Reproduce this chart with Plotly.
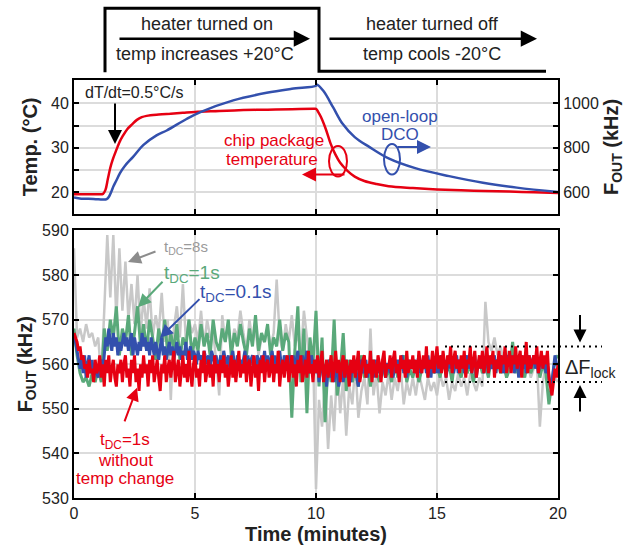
import plotly.graph_objects as go

# ---------------- data ----------------
# top panel: chip package temperature (degC) and open-loop DCO frequency (kHz)
t_chip = [0, 0.5, 1.0, 1.2, 1.3, 1.4, 1.5, 1.6, 1.7, 1.8, 1.9, 2.0, 2.2, 2.4, 2.6, 2.8, 3.0, 3.5,
          4.0, 4.5, 5.0, 6.0, 7.0, 8.0, 9.0, 9.9, 10.0, 10.1, 10.2, 10.4, 10.6, 10.8, 11.0, 11.3,
          11.6, 12.0, 12.5, 13.0, 14.0, 15.0, 16.0, 17.0, 18.0, 19.0, 20.0]
temp_chip = [19.5, 19.5, 19.5, 19.6, 20.5, 23.0, 25.5, 27.3, 28.8, 30.2, 31.5, 32.5, 34.2, 35.3,
             36.3, 36.9, 37.2, 37.5, 37.7, 37.9, 38.1, 38.3, 38.5, 38.6, 38.7, 38.8, 38.8, 38.0,
             37.0, 34.3, 31.0, 28.5, 26.6, 24.8, 23.5, 22.5, 21.8, 21.3, 20.9, 20.6, 20.4, 20.25,
             20.1, 19.95, 19.8]

t_dco = [0, 0.3, 0.6, 0.9, 1.2, 1.35, 1.45, 1.55, 1.63, 1.75, 1.9, 2.1, 2.45, 2.86, 3.41, 3.83,
         4.65, 5.2, 6.58, 7.96, 9.0, 10.0, 10.03, 10.31, 10.71, 11.1, 11.6, 12.2, 13.0, 14.1,
         15.5, 16.9, 18.3, 20.0]
f_dco = [576, 570, 570, 568, 566, 568, 580, 604, 626, 652, 686, 718, 760, 812, 856, 878, 930,
         960, 1014, 1048, 1066, 1080, 1086, 1056, 982, 908, 848, 804, 752, 708, 672, 642, 620, 600]

# bottom panel: locked FOUT (kHz)
# tDC=8s and tDC=1s sampled every 0.125 min
t_slow = [i * 0.125 for i in range(161)]
f_8s = [586, 566, 568, 565, 569, 566, 567, 564,
        566, 557, 572, 589, 575, 589, 570, 586,
        572, 583, 570, 578, 569, 580, 567, 575,
        568, 577, 566, 571, 567, 576, 565, 570,
        552, 568, 573, 566, 578, 565, 570, 567,
        569, 565, 572, 564, 570, 566, 567, 561,
        553, 571, 565, 569, 563, 568, 566, 572,
        567, 563, 570, 565, 568, 562, 566, 565,
        568, 564, 567, 579, 566, 563, 569, 565,
        571, 564, 567, 562, 572, 566, 560, 564,
        532, 552, 546, 556, 541, 553, 545, 560,
        549, 557, 544, 555, 551, 560, 548, 554,
        557, 551, 568, 553, 558, 549, 556, 553,
        558, 552, 557, 554, 559, 551, 556, 553,
        557, 553, 558, 555, 552, 557, 554, 556,
        553, 558, 555, 557, 552, 556, 554, 558,
        555, 557, 553, 558, 556, 554, 557, 555,
        574, 565, 563, 566, 562, 564, 561, 563,
        560, 562, 559, 561, 558, 562, 560, 557,
        559, 561, 546, 556, 560, 558, 555, 557,
        556]
f_1s = [568, 562, 558, 556, 557, 555, 558, 556,
        559, 556, 568, 563, 570, 566, 573, 562,
        568, 565, 571, 562, 567, 573, 564, 569,
        563, 570, 566, 561, 568, 564, 570, 562,
        567, 563, 569, 561, 566, 564, 570, 562,
        566, 563, 569, 564, 567, 562, 570, 565,
        563, 568, 565, 570, 562, 567, 564, 569,
        565, 562, 568, 564, 571, 563, 567, 565,
        569, 562, 566, 564, 570, 563, 567, 565,
        548, 563, 573, 556, 568, 549, 566, 560,
        572, 555, 566, 547, 561, 556, 570, 553,
        558, 567, 554, 561, 556, 559, 555, 562,
        557, 560, 555, 561, 558, 556, 560, 557,
        559, 556, 561, 557, 560, 562, 556, 559,
        557, 560, 556, 559, 561, 557, 560, 558,
        560, 557, 561, 558, 560, 556, 562, 559,
        557, 561, 558, 560, 556, 559, 561, 558,
        560, 557, 562, 559, 561, 558, 560, 557,
        559, 565, 558, 562, 560, 557, 561, 558,
        560, 562, 557, 560, 558, 551, 556, 561,
        562]
# tDC=0.1s and tDC=1s without temp change sampled every 0.0625 min
t_fast = [i * 0.0625 for i in range(321)]
f_01s = [566, 565, 563, 561, 559, 561, 558, 562, 557, 560, 562, 558, 561, 557, 560, 558,
         557, 560, 561, 558, 563, 566, 564, 568, 565, 563, 567, 564, 566, 562, 565, 563,
         565, 567, 564, 566, 563, 565, 567, 562, 566, 564, 562, 565, 563, 567, 564, 566,
         563, 565, 562, 566, 564, 562, 565, 563, 561, 564, 566, 562, 564, 561, 563, 565,
         562, 564, 561, 563, 565, 562, 564, 561, 563, 562, 565, 561, 563, 564, 561, 563,
         562, 560, 563, 561, 562, 559, 563, 561, 560, 562, 559, 563, 561, 560, 562, 559,
         560, 562, 559, 563, 561, 560, 562, 559, 561, 563, 560, 558, 562, 560, 561, 559,
         561, 563, 560, 562, 559, 561, 562, 560, 558, 562, 561, 559, 562, 560, 563, 559,
         562, 559, 561, 563, 560, 562, 559, 561, 563, 560, 558, 562, 560, 561, 559, 562,
         560, 562, 558, 561, 563, 559, 561, 562, 559, 561, 563, 560, 558, 562, 560, 561,
         558, 560, 556, 559, 561, 557, 560, 555, 559, 561, 557, 558, 556, 560, 558, 555,
         557, 560, 556, 559, 561, 557, 559, 556, 560, 558, 561, 557, 555, 559, 561, 558,
         559, 561, 557, 560, 558, 561, 557, 559, 561, 558, 560, 557, 561, 559, 557, 560,
         560, 558, 561, 557, 560, 559, 561, 558, 560, 562, 558, 560, 557, 561, 559, 560,
         559, 561, 558, 560, 562, 558, 560, 559, 561, 558, 562, 559, 557, 561, 560, 558,
         561, 558, 560, 562, 559, 561, 557, 560, 562, 559, 561, 558, 560, 562, 558, 561,
         559, 561, 558, 560, 562, 559, 561, 558, 560, 562, 557, 560, 561, 559, 562, 558,
         560, 562, 558, 561, 559, 560, 562, 558, 561, 559, 562, 560, 558, 561, 560, 562,
         561, 559, 562, 558, 560, 561, 557, 560, 562, 559, 561, 558, 560, 562, 559, 561,
         562, 559, 561, 558, 560, 562, 559, 561, 558, 560, 557, 555, 556, 559, 562, 560,
         560]
f_notemp = [567, 566, 565, 563, 564, 561, 562, 559, 560, 557, 561, 558, 559, 556, 561, 558,
            559, 562, 557, 560, 555, 561, 558, 562, 556, 559, 561, 557, 555, 560, 558, 561,
            556, 560, 562, 557, 559, 555, 561, 558, 562, 556, 559, 554, 560, 557, 562, 558,
            560, 555, 561, 558, 562, 556, 559, 561, 557, 554, 560, 558, 562, 556, 559, 561,
            557, 560, 563, 556, 559, 561, 555, 558, 562, 557, 560, 556, 563, 558, 555, 560,
            562, 557, 559, 555, 561, 558, 563, 556, 559, 561, 557, 560, 555, 562, 558, 560,
            556, 561, 558, 562, 557, 560, 555, 559, 562, 557, 561, 556, 559, 563, 557, 560,
            558, 562, 556, 560, 561, 555, 559, 562, 557, 560, 554, 561, 558, 562, 556, 560,
            561, 557, 559, 562, 556, 560, 558, 563, 555, 559, 561, 557, 560, 562, 556, 559,
            562, 557, 560, 555, 561, 558, 562, 556, 559, 561, 557, 563, 558, 560, 556, 561,
            558, 562, 557, 560, 563, 556, 559, 561, 557, 560, 562, 556, 559, 563, 558, 561,
            556, 560, 562, 557, 561, 559, 555, 561, 558, 562, 557, 560, 563, 556, 559, 561,
            562, 557, 560, 558, 563, 556, 561, 559, 557, 562, 560, 556, 561, 563, 557, 560,
            559, 562, 557, 561, 563, 558, 560, 556, 562, 559, 561, 557, 563, 558, 561, 559,
            562, 558, 561, 557, 563, 560, 558, 562, 559, 564, 557, 561, 559, 563, 558, 561,
            564, 559, 562, 558, 563, 560, 557, 562, 560, 564, 558, 561, 563, 559, 561, 558,
            562, 559, 563, 557, 561, 560, 564, 558, 561, 563, 557, 560, 562, 559, 563, 558,
            561, 564, 558, 562, 560, 563, 557, 561, 559, 563, 558, 562, 560, 564, 558, 561,
            563, 558, 562, 560, 564, 559, 561, 563, 557, 562, 560, 565, 558, 562, 559, 561,
            562, 560, 564, 558, 561, 563, 559, 562, 560, 563, 557, 555, 553, 556, 559, 557,
            560]

lock_band = [564, 556]

# ---------------- style ----------------
RED = "#e60012"
BLUE = "#3350ad"
GREEN = "#5aa97a"
GREY = "#c8c8c8"
FONT = "Liberation Sans"
W, H = 633, 554
ML, MR, MT, MB = 74, 75, 80, 49


def px(xp):
    return (xp - ML) / (W - ML - MR)


def py(yp):
    return (H - MB - yp) / (H - MT - MB)


fig = go.Figure()
fig.add_trace(go.Scatter(x=t_chip, y=temp_chip, mode="lines", line=dict(color=RED, width=2.5, shape="spline"),
                         xaxis="x", yaxis="y", showlegend=False))
fig.add_trace(go.Scatter(x=t_dco, y=f_dco, mode="lines", line=dict(color=BLUE, width=2.5, shape="spline"),
                         xaxis="x", yaxis="y2", showlegend=False))
for xs, ys, col, w in [(t_slow, f_8s, GREY, 2.5), (t_slow, f_1s, GREEN, 3),
                       (t_fast, f_01s, BLUE, 3), (t_fast, f_notemp, RED, 3)]:
    fig.add_trace(go.Scatter(x=xs, y=ys, mode="lines", line=dict(color=col, width=w),
                             xaxis="x2", yaxis="y3", showlegend=False))

axis_common = dict(showline=True, linecolor="black", linewidth=2, ticks="inside", ticklen=5,
                   tickwidth=1.5, tickcolor="black", gridcolor="#dcdcdc", gridwidth=1.5,
                   zeroline=False, tickfont=dict(family=FONT, size=16, color="#222"))

fig.update_layout(
    width=W, height=H, margin=dict(l=ML, r=MR, t=MT, b=MB),
    plot_bgcolor="white", paper_bgcolor="white",
    font=dict(family=FONT, color="#222"),
    xaxis=dict(axis_common, domain=[0, 1], anchor="y", range=[0, 20], tickvals=[0, 5, 10, 15, 20],
               showticklabels=False, mirror="ticks", showgrid=True),
    yaxis=dict(axis_common, domain=[py(216), 1], anchor="x", range=[15.1, 45.3],
               tickvals=[20, 25, 30, 35, 40], ticktext=["20", "", "30", "", "40"], showgrid=True,
               title=dict(text="<b>Temp. (°C)</b>", font=dict(size=20, family=FONT), standoff=8)),
    yaxis2=dict(axis_common, overlaying="y", side="right", anchor="x", range=[502, 1106],
                tickvals=[600, 700, 800, 900, 1000], ticktext=["600", "", "800", "", "1000"], showgrid=False,
                title=dict(text="<b>F<sub>OUT</sub> (kHz)</b>", font=dict(size=20, family=FONT), standoff=6)),
    xaxis2=dict(axis_common, domain=[0, 1], anchor="y3", range=[0, 20], tickvals=[0, 5, 10, 15, 20],
                mirror="ticks", showgrid=True,
                title=dict(text="<b>Time (minutes)</b>", font=dict(size=20, family=FONT), standoff=6)),
    yaxis3=dict(axis_common, domain=[0, py(233)], anchor="x2", range=[530, 590],
                tickvals=[530, 540, 550, 560, 570, 580, 590], mirror="ticks", showgrid=True,
                title=dict(text="<b>F<sub>OUT</sub> (kHz)</b>", font=dict(size=20, family=FONT), standoff=4)),
)

shapes = []
# header outline
shapes.append(dict(type="path", xref="paper", yref="paper",
                   path=f"M {px(105)} {py(72)} L {px(105)} {py(7)} L {px(319)} {py(7)} L {px(319)} {py(71)} L {px(546)} {py(71)}",
                   line=dict(color="black", width=3)))
# lock band dotted lines
for v in lock_band:
    shapes.append(dict(type="line", xref="paper", yref="y3", x0=px(445), x1=px(602), y0=v, y1=v,
                       line=dict(color="black", width=2, dash="2px,4px")))
# rotation loops
shapes.append(dict(type="circle", xref="paper", yref="paper", x0=px(329), x1=px(347), y0=py(178), y1=py(147),
                   line=dict(color=RED, width=2)))
shapes.append(dict(type="circle", xref="paper", yref="paper", x0=px(384), x1=px(400), y0=py(176), y1=py(145),
                   line=dict(color=BLUE, width=2)))
fig.update_layout(shapes=shapes)

ann = []


def text(xp, yp, s, size, color="#222"):
    ann.append(dict(xref="paper", yref="paper", x=px(xp), y=py(yp), text=s, showarrow=False,
                    xanchor="center", yanchor="middle", font=dict(family=FONT, size=size, color=color)))


def arrow(hx, hy, tx, ty, color="black", width=2, size=1.2):
    ann.append(dict(xref="paper", yref="paper", x=px(hx), y=py(hy), ax=tx - hx, ay=ty - hy, text="",
                    font=dict(size=1), showarrow=True, arrowhead=2, arrowsize=size, arrowwidth=width,
                    arrowcolor=color))


# header
text(207, 23, "heater turned on", 18)
text(205, 54, "temp increases +20°C", 18)
text(432, 23, "heater turned off", 18)
text(432, 54, "temp cools -20°C", 18)
arrow(310, 38, 118, 38, width=2.5, size=1.3)
arrow(537, 38, 328, 38, width=2.5, size=1.3)

# top panel notes
text(134, 93, "dT/dt=0.5°C/s", 16)
arrow(115, 145, 115, 103, width=2, size=1.4)
text(274, 142, "chip package", 17, RED)
text(272, 161, "temperature", 17, RED)
arrow(302, 176, 346, 176, color=RED, width=2, size=1.4)
text(400, 117, "open-loop", 17, BLUE)
text(400, 135, "DCO", 17, BLUE)
arrow(431, 148, 396, 148, color=BLUE, width=2, size=1.4)

# bottom panel notes
text(186, 250, "t<sub>DC</sub>=8s", 15, "#9a9a9a")
arrow(128, 265, 157, 254, color="#8c8c8c", width=2, size=1.3)
text(192, 277, "t<sub>DC</sub>=1s", 19, GREEN)
arrow(138, 311, 164, 284, color=GREEN, width=2, size=1.3)
text(236, 297, "t<sub>DC</sub>=0.1s", 19, BLUE)
arrow(160, 342, 201, 302, color=BLUE, width=2, size=1.3)
text(125, 447, "t<sub>DC</sub>=1s", 17, RED)
text(125, 467, "without", 17, RED)
text(125, 485, "temp change", 17, RED)
arrow(137, 393, 124, 428, color=RED, width=2, size=1.3)
text(590, 373, "ΔF<sub>lock</sub>", 20)
arrow(580, 347, 580, 318, width=2, size=1.3)
arrow(580, 390, 580, 418, width=2, size=1.3)

fig.update_layout(annotations=ann)
fig.write_html("out.html")
